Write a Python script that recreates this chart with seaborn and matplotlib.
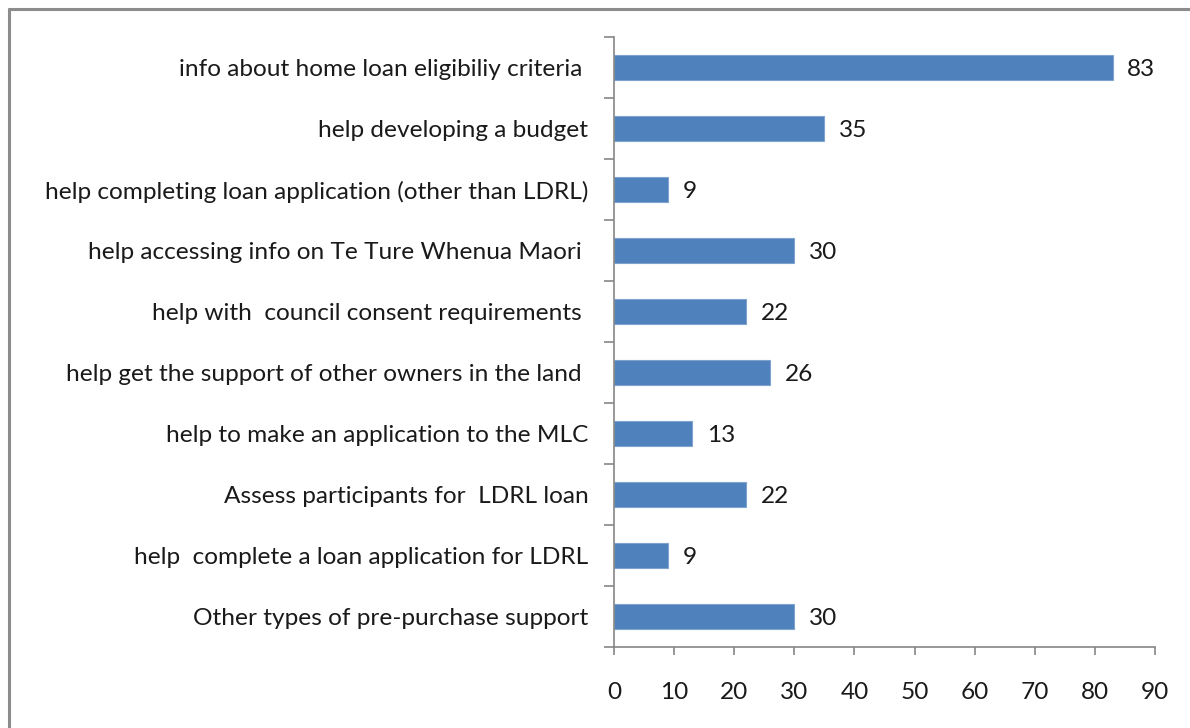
import matplotlib
matplotlib.use("Agg")
import matplotlib.pyplot as plt
from matplotlib.lines import Line2D
from matplotlib.ticker import FixedLocator, NullFormatter
import seaborn as sns
import pandas as pd

categories = [
    "info about home loan eligibiliy criteria ",
    "help developing a budget",
    "help completing loan application (other than LDRL)",
    "help accessing info on Te Ture Whenua Maori ",
    "help with  council consent requirements ",
    "help get the support of other owners in the land ",
    "help to make an application to the MLC",
    "Assess participants for  LDRL loan",
    "help  complete a loan application for LDRL",
    "Other types of pre-purchase support",
]
counts = [83, 35, 9, 30, 22, 26, 13, 22, 9, 30]
x_ticks = [0, 10, 20, 30, 40, 50, 60, 70, 80, 90]

df = pd.DataFrame({"support": categories, "count": counts})

sns.set_style("white")
plt.rcParams["font.family"] = ["Lato", "DejaVu Sans"]
text_color = "#1a1a1a"
axis_color = "#868686"
fs = 17.6

fig = plt.figure(figsize=(11.9, 7.28), dpi=100)
ax = fig.add_axes([614 / 1190, 1 - 647 / 728, (1155 - 614) / 1190, (647 - 37) / 728])

sns.barplot(data=df, y="support", x="count", orient="h", ax=ax,
            color="#4F81BD", edgecolor="#7EA3CF", linewidth=0.8,
            width=0.4, saturation=1)

ax.set_xlim(0, 90)
ax.set_ylim(len(categories) - 0.5, -0.5)
ax.set_xlabel("")
ax.set_ylabel("")

for spine in ["top", "right"]:
    ax.spines[spine].set_visible(False)
for spine in ["left", "bottom"]:
    ax.spines[spine].set_color(axis_color)
    ax.spines[spine].set_linewidth(1.2)

# Category labels centred on bars, tick marks on the boundaries between bars
ax.set_yticks(range(len(categories)))
ax.set_yticklabels(categories)
ax.yaxis.set_minor_locator(FixedLocator([i - 0.5 for i in range(len(categories) + 1)]))
ax.yaxis.set_minor_formatter(NullFormatter())
ax.tick_params(axis="y", which="major", length=0, pad=18.5, labelsize=fs, labelcolor=text_color)
ax.tick_params(axis="y", which="minor", length=7, width=1.2, color=axis_color, left=True)
for lbl in ax.get_yticklabels():
    lbl.set_va("center_baseline")

ax.set_xticks(x_ticks)
ax.tick_params(axis="x", which="major", length=6, width=1.2, color=axis_color,
               pad=19, labelsize=fs, labelcolor=text_color, bottom=True)

for i, v in enumerate(counts):
    ax.text(v + 2.4, i, str(v), va="center_baseline", ha="left", fontsize=fs, color=text_color)

# Frame edges along the top and left of the figure
fig.add_artist(Line2D([9 / 1190, 1], [1 - 9 / 728, 1 - 9 / 728], transform=fig.transFigure,
                      color="#8c8c8c", lw=2.2))
fig.add_artist(Line2D([9 / 1190, 9 / 1190], [0, 1 - 9 / 728], transform=fig.transFigure,
                      color="#8c8c8c", lw=2.2))

fig.savefig("out.png", dpi=100, facecolor="white")
